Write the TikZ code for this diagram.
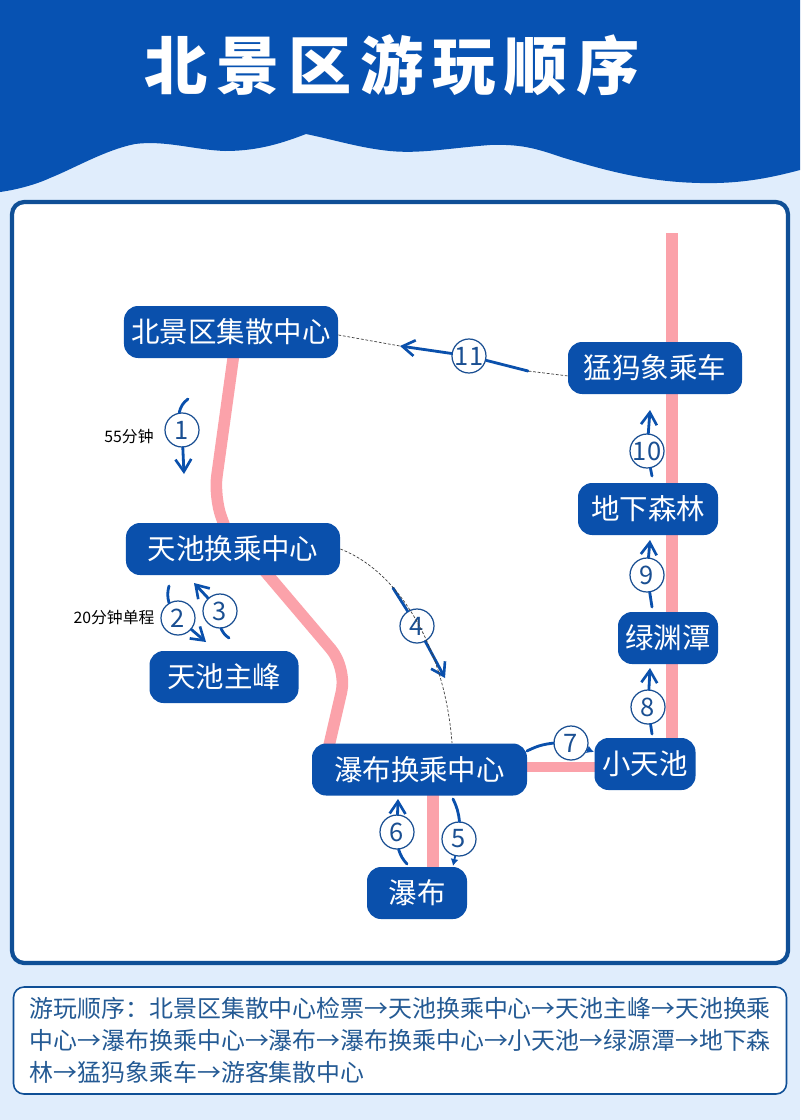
\documentclass[tikz,border=0pt]{standalone}
\usepackage{fontspec}
\usepackage{xcolor}
\setmainfont{Noto Sans CJK SC}
\newfontfamily\titlefont[LetterSpace=14]{Noto Sans CJK SC Black}
\usetikzlibrary{arrows.meta, backgrounds}

\definecolor{pagesky}{HTML}{E0EDFC}
\definecolor{headblue}{HTML}{0752B2}
\definecolor{stopblue}{HTML}{0A50AC}
\definecolor{edgeblue}{HTML}{0F4F96}
\definecolor{roadpink}{HTML}{FBA2AA}
\definecolor{numblue}{HTML}{1A4F92}
\definecolor{notetext}{HTML}{245A94}

\tikzset{
    stopbox/.style={fill=stopblue, text=white, rounded corners=8pt, minimum height=10.4mm, inner sep=0pt, font=\fontsize{16.2pt}{18pt}\selectfont},
    road/.style={draw=roadpink, line width=6.6pt, line join=round},
    numring/.style={circle, draw=numblue, fill=white, line width=0.7pt, minimum size=6.8mm, inner sep=0pt, text=numblue, font=\fontsize{14.5pt}{16pt}\selectfont},
    tripline/.style={draw=stopblue, line width=1.6pt, line cap=round},
    trip/.style={tripline, -{Straight Barb[length=7pt, width=9pt, line width=1.5pt]}},
    tripshort/.style={tripline, line width=1pt, -{Latex[length=4pt, width=4.5pt]}},
    thinlink/.style={draw=black!75, line width=0.4pt, dash pattern=on 1.6pt off 1pt},
    timenote/.style={inner sep=0pt, font=\fontsize{9pt}{11pt}\selectfont}
}

\begin{document}
\begin{tikzpicture}[x=0.2mm, y=-0.2mm]
    \useasboundingbox (0, 0) rectangle (800, 1120);

    \node[text=white, font=\titlefont\fontsize{36pt}{38pt}\selectfont] (title) at (392, 65) {北景区游玩顺序};

    % stops
    \node[stopbox, minimum width=42.8mm] (bjq) at (231, 332) {北景区集散中心};
    \node[stopbox, minimum width=42.8mm] (tc) at (233, 549) {天池换乘中心};
    \node[stopbox, minimum width=29.8mm] (tczf) at (224, 677) {天池主峰};
    \node[stopbox, minimum width=43mm] (pb) at (419.5, 769.5) {瀑布换乘中心};
    \node[stopbox, minimum width=20mm] (pbu) at (417, 893) {瀑布};
    \node[stopbox, minimum width=20.2mm] (xtc) at (645, 764) {小天池};
    \node[stopbox, minimum width=20mm] (lyt) at (668, 638) {绿渊潭};
    \node[stopbox, minimum width=28mm] (dxsl) at (648, 509) {地下森林};
    \node[stopbox, minimum width=34.8mm] (mxc) at (655, 368) {猛犸象乘车};

    % numbers
    \node[numring] (one) at (182, 430) {1};
    \node[numring] (two) at (178, 618) {2};
    \node[numring] (three) at (220, 611) {3};
    \node[numring] (four) at (417, 626) {4};
    \node[numring] (five) at (459, 839) {5};
    \node[numring] (six) at (397, 832) {6};
    \node[numring] (seven) at (571, 743) {7};
    \node[numring] (eight) at (648, 707) {8};
    \node[numring] (nine) at (647, 575) {9};
    \node[numring] (ten) at (647, 451) {10};
    \node[numring] (eleven) at (469, 356) {11};

    \node[timenote] (tone) at (129, 437) {55分钟};
    \node[timenote] (ttwo) at (114, 618) {20分钟单程};

    % free ends of the arrows
    \coordinate (oneA) at (188, 399);
    \coordinate (oneB) at (184, 474);
    \coordinate (twoA) at (169, 586);
    \coordinate (twoB) at (206, 642);
    \coordinate (threeA) at (229, 638);
    \coordinate (threeB) at (194, 583);
    \coordinate (fourA) at (393, 588);
    \coordinate (fourB) at (445, 678);
    \coordinate (fiveA) at (453, 799);
    \coordinate (fiveB) at (453, 866);
    \coordinate (sixA) at (407, 864);
    \coordinate (sixB) at (398, 799);
    \coordinate (sevenA) at (527, 751);
    \coordinate (sevenB) at (594, 752);
    \coordinate (eightA) at (652, 734);
    \coordinate (eightB) at (650, 668);
    \coordinate (nineA) at (652, 607);
    \coordinate (nineB) at (650, 540);
    \coordinate (tenA) at (652, 476);
    \coordinate (tenB) at (650, 410);
    \coordinate (elevenA) at (528, 371);
    \coordinate (elevenB) at (400, 346);

    \draw[tripline] (oneA) to[bend right=20] (one);
    \draw[trip] (one) -- (oneB);
    \draw[tripline] (twoA) to[bend right=15] (two);
    \draw[trip] (two) -- (twoB);
    \draw[tripline] (threeA) to[bend left=15] (three);
    \draw[trip] (three) -- (threeB);
    \draw[trip] (fourA) -- (four) -- (fourB);
    \draw[tripline] (fiveA) to[bend left=10] (five);
    \draw[tripshort] (five) -- (fiveB);
    \draw[tripline] (sixA) to[bend left=12] (six);
    \draw[trip] (six) -- (sixB);
    \draw[tripline] (sevenA) to[bend left=10] (seven);
    \draw[tripshort] (seven) -- (sevenB);
    \draw[trip] (eightA) -- (eight) -- (eightB);
    \draw[trip] (nineA) -- (nine) -- (nineB);
    \draw[trip] (tenA) -- (ten) -- (tenB);
    \draw[trip] (elevenA) -- (eleven) -- (elevenB);

    \draw[thinlink] ([yshift=-1.7pt]bjq.east) -- (elevenB);
    \draw[thinlink] ([yshift=-4.5pt]mxc.west) -- (elevenA);
    \coordinate (fourEnd) at (452, 743);
    \draw[thinlink] (tc.east) .. controls (400, 572) and (445, 650) .. (fourEnd);

    \begin{scope}[on background layer]
        \fill[pagesky] (0, 0) rectangle (800, 1120);
        \fill[headblue] (0, 0) -- (800, 0) -- (800, 170)
            .. controls (770, 178) and (740, 184) .. (700, 183)
            .. controls (650, 182) and (610, 172) .. (561, 157)
            .. controls (535, 148) and (520, 144) .. (490, 145)
            .. controls (450, 148) and (420, 154) .. (390, 151)
            .. controls (360, 148) and (335, 140) .. (306, 134)
            .. controls (285, 142) and (260, 151) .. (225, 151)
            .. controls (195, 150) and (165, 140) .. (135, 144)
            .. controls (105, 150) and (75, 168) .. (50, 178)
            .. controls (35, 185) and (15, 190) .. (0, 192) -- cycle;
        \draw[draw=edgeblue, fill=white, line width=2.4pt, rounded corners=7pt] (12, 202) rectangle (788, 963);

        % pink roads stay behind the stops
        \coordinate (roadS) at (235, 345);
        \coordinate (roadA) at (214, 497);
        \coordinate (roadB) at (257, 562);
        \coordinate (roadC) at (347, 668);
        \coordinate (roadD) at (328, 750);
        \coordinate (roadTop) at (672, 233);
        \coordinate (roadRow) at (0, 767);
        \coordinate (roadCol) at (433, 0);
        \draw[road, rounded corners=12pt] (roadS) -- (roadA) -- (tc.center);
        \draw[road, rounded corners=14pt] (roadB) -- (roadC) -- (roadD);
        \draw[road] (roadTop) -- (roadTop |- xtc);
        \draw[road, line width=5.8pt] (pb |- roadRow) -- (xtc |- roadRow);
        \draw[road] (roadCol |- pb) -- (roadCol |- pbu);
    \end{scope}

    % route text
    \node[draw=edgeblue, fill=white, line width=0.9pt, rounded corners=6pt, minimum width=154.6mm, minimum height=21.4mm,
        text width=148mm, align=left, inner sep=0pt, text=notetext, font=\fontsize{13.6pt}{18.2pt}\selectfont] (route) at (400, 1040.5)
        {游玩顺序：北景区集散中心检票→天池换乘中心→天池主峰→天池换乘\\
         中心→瀑布换乘中心→瀑布→瀑布换乘中心→小天池→绿源潭→地下森\\
         林→猛犸象乘车→游客集散中心};
\end{tikzpicture}
\end{document}
